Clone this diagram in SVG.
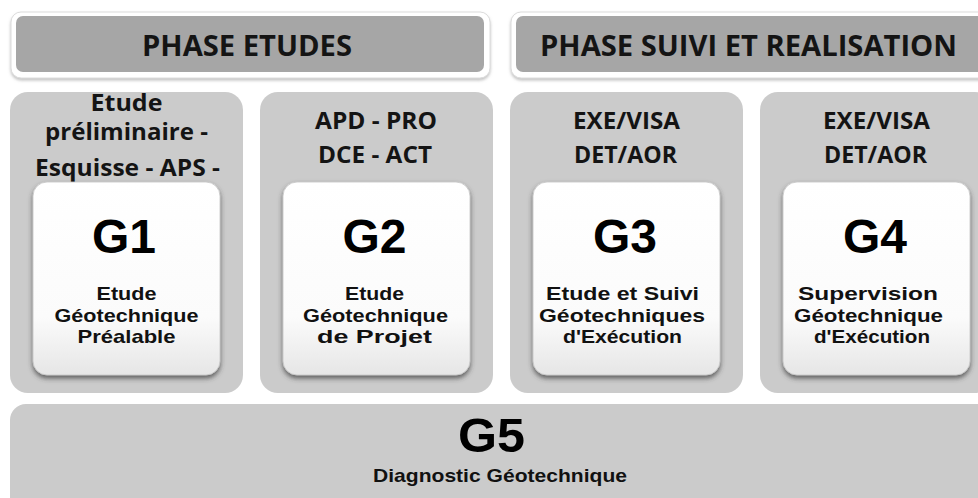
<svg xmlns="http://www.w3.org/2000/svg" width="978" height="498" viewBox="0 0 978 498">
  <defs>
    <linearGradient id="cardGrad" x1="0" y1="0" x2="0" y2="1">
      <stop offset="0" stop-color="#ffffff"/>
      <stop offset="0.7" stop-color="#fbfbfb"/>
      <stop offset="1" stop-color="#e6e6e6"/>
    </linearGradient>
    <filter id="cardShadow" x="-10%" y="-10%" width="120%" height="125%">
      <feDropShadow dx="0" dy="3" stdDeviation="2.5" flood-color="#3a3a3a" flood-opacity="0.75"/>
    </filter>
    <filter id="headShadow" x="-5%" y="-20%" width="110%" height="150%">
      <feDropShadow dx="0" dy="2" stdDeviation="1.5" flood-color="#999" flood-opacity="0.6"/>
    </filter>
    <style>
      .hOuter { fill: #ffffff; stroke: #dcdcdc; stroke-width: 1; }
      .hInner { fill: #a6a6a6; }
      .hText { font-family: "Open Sans", "DejaVu Sans", sans-serif; font-weight: 700; font-size: 28px; fill: #141414; text-anchor: middle; }
      .panel { fill: #cbcbcb; }
      .card { fill: url(#cardGrad); stroke: #c4c4c4; stroke-width: 0.8; }
      .phase { font-family: "Open Sans", "DejaVu Sans", sans-serif; font-weight: 700; font-size: 23px; fill: #141414; text-anchor: middle; }
      .gnum { font-family: "Liberation Sans", Arial, sans-serif; font-weight: 700; font-size: 48px; fill: #000; text-anchor: middle; }
      .gdesc { font-family: "Liberation Sans", Arial, sans-serif; font-weight: 700; font-size: 19px; fill: #111; text-anchor: middle; }
    </style>
  </defs>

  <rect width="978" height="498" fill="#ffffff"/>

  <g id="header-etudes">
    <rect class="hOuter" x="11" y="12" width="479" height="66" rx="10" filter="url(#headShadow)"/>
    <rect class="hInner" x="16" y="16" width="468" height="56" rx="7"/>
    <text class="hText" x="247" y="56" textLength="210" lengthAdjust="spacingAndGlyphs">PHASE ETUDES</text>
  </g>

  <g id="header-suivi">
    <rect class="hOuter" x="511" y="12" width="479" height="66" rx="10" filter="url(#headShadow)"/>
    <rect class="hInner" x="516" y="16" width="468" height="56" rx="7"/>
    <text class="hText" x="748.5" y="56" textLength="417" lengthAdjust="spacingAndGlyphs">PHASE SUIVI ET REALISATION</text>
  </g>

  <g id="col-g1">
    <rect class="panel" x="10" y="92" width="233" height="301" rx="18"/>
    <text class="phase" x="126.5" y="111" font-size="20" textLength="72" lengthAdjust="spacingAndGlyphs">Etude</text>
    <text class="phase" x="126.5" y="140" font-size="20" textLength="163" lengthAdjust="spacingAndGlyphs">préliminaire -</text>
    <text class="phase" x="127.5" y="176" textLength="185" lengthAdjust="spacingAndGlyphs">Esquisse - APS -</text>
    <rect class="card" x="33" y="182" width="187" height="193" rx="14" filter="url(#cardShadow)"/>
    <text class="gnum" x="124" y="253">G1</text>
    <text class="gdesc" x="126.5" y="300" textLength="60" lengthAdjust="spacingAndGlyphs">Etude</text>
    <text class="gdesc" x="126.5" y="321.5" textLength="144" lengthAdjust="spacingAndGlyphs">Géotechnique</text>
    <text class="gdesc" x="126.5" y="343" textLength="98" lengthAdjust="spacingAndGlyphs">Préalable</text>
  </g>

  <g id="col-g2">
    <rect class="panel" x="260" y="92" width="233" height="301" rx="18"/>
    <text class="phase" x="376" y="129" textLength="122" lengthAdjust="spacingAndGlyphs">APD - PRO</text>
    <text class="phase" x="375" y="163" textLength="114" lengthAdjust="spacingAndGlyphs">DCE - ACT</text>
    <rect class="card" x="283" y="182" width="187" height="193" rx="14" filter="url(#cardShadow)"/>
    <text class="gnum" x="374.5" y="253">G2</text>
    <text class="gdesc" x="374.5" y="300" textLength="59" lengthAdjust="spacingAndGlyphs">Etude</text>
    <text class="gdesc" x="375.5" y="321.5" textLength="145" lengthAdjust="spacingAndGlyphs">Géotechnique</text>
    <text class="gdesc" x="374.5" y="343" textLength="115" lengthAdjust="spacingAndGlyphs">de Projet</text>
  </g>

  <g id="col-g3">
    <rect class="panel" x="510" y="92" width="233" height="301" rx="18"/>
    <text class="phase" x="626.5" y="129" textLength="107" lengthAdjust="spacingAndGlyphs">EXE/VISA</text>
    <text class="phase" x="625.5" y="163" textLength="103" lengthAdjust="spacingAndGlyphs">DET/AOR</text>
    <rect class="card" x="533" y="182" width="187" height="193" rx="14" filter="url(#cardShadow)"/>
    <text class="gnum" x="625" y="253">G3</text>
    <text class="gdesc" x="622.5" y="300" textLength="153" lengthAdjust="spacingAndGlyphs">Etude et Suivi</text>
    <text class="gdesc" x="622" y="321.5" textLength="166" lengthAdjust="spacingAndGlyphs">Géotechniques</text>
    <text class="gdesc" x="622.5" y="343" textLength="119" lengthAdjust="spacingAndGlyphs">d'Exécution</text>
  </g>

  <g id="col-g4">
    <rect class="panel" x="760" y="92" width="233" height="301" rx="18"/>
    <text class="phase" x="876.5" y="129" textLength="107" lengthAdjust="spacingAndGlyphs">EXE/VISA</text>
    <text class="phase" x="875.5" y="163" textLength="103" lengthAdjust="spacingAndGlyphs">DET/AOR</text>
    <rect class="card" x="783" y="182" width="187" height="193" rx="14" filter="url(#cardShadow)"/>
    <text class="gnum" x="875" y="253">G4</text>
    <text class="gdesc" x="868" y="300" textLength="140" lengthAdjust="spacingAndGlyphs">Supervision</text>
    <text class="gdesc" x="868.5" y="321.5" textLength="149" lengthAdjust="spacingAndGlyphs">Géotechnique</text>
    <text class="gdesc" x="872" y="343" textLength="116" lengthAdjust="spacingAndGlyphs">d'Exécution</text>
  </g>

  <g id="g5">
    <rect class="panel" x="10" y="404" width="990" height="120" rx="16"/>
    <text class="gnum" x="491.5" y="452" font-size="46" textLength="67" lengthAdjust="spacingAndGlyphs">G5</text>
    <text class="gdesc" x="500" y="482" font-size="21" textLength="254" lengthAdjust="spacingAndGlyphs">Diagnostic Géotechnique</text>
  </g>

  <g id="connectors"/>
</svg>
